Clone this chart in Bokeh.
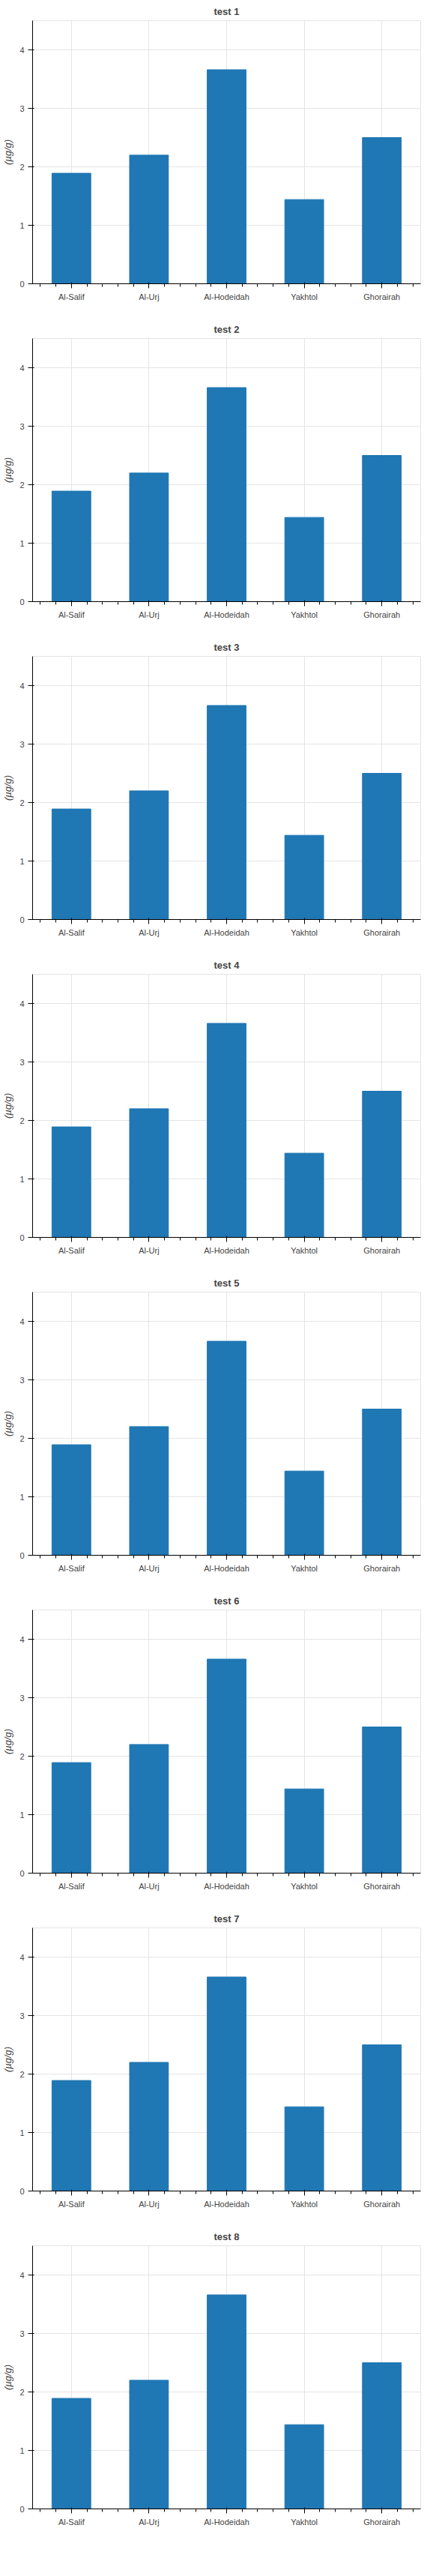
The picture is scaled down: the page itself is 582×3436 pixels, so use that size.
from bokeh.plotting import figure
from bokeh.models import FixedTicker, Range1d
from bokeh.layouts import column
from bokeh.embed import file_html
from bokeh.resources import INLINE

SITES = ["Al-Salif", "Al-Urj", "Al-Hodeidah", "Yakhtol", "Ghorairah"]
VALS = [1.89, 2.20, 3.66, 1.44, 2.50]
W, H = 566, 404


def mk(v):
    p = figure(width=W, height=H, output_backend="svg", toolbar_location=None,
               title="test %d" % v, x_range=Range1d(-0.5, 4.5), y_range=Range1d(0, 4.5))
    p.vbar(x=list(range(5)), top=VALS, width=0.5)
    p.title.align = "center"
    p.yaxis.ticker = FixedTicker(ticks=[0, 1, 2, 3, 4])
    p.xaxis.major_label_overrides = {i: s for i, s in enumerate(SITES)}
    p.yaxis.axis_label = "(µg/g)"
    return p


ps = [mk(v) for v in range(1, 9)]
open("out.html", "w").write(file_html(column(*ps, spacing=20), INLINE))
